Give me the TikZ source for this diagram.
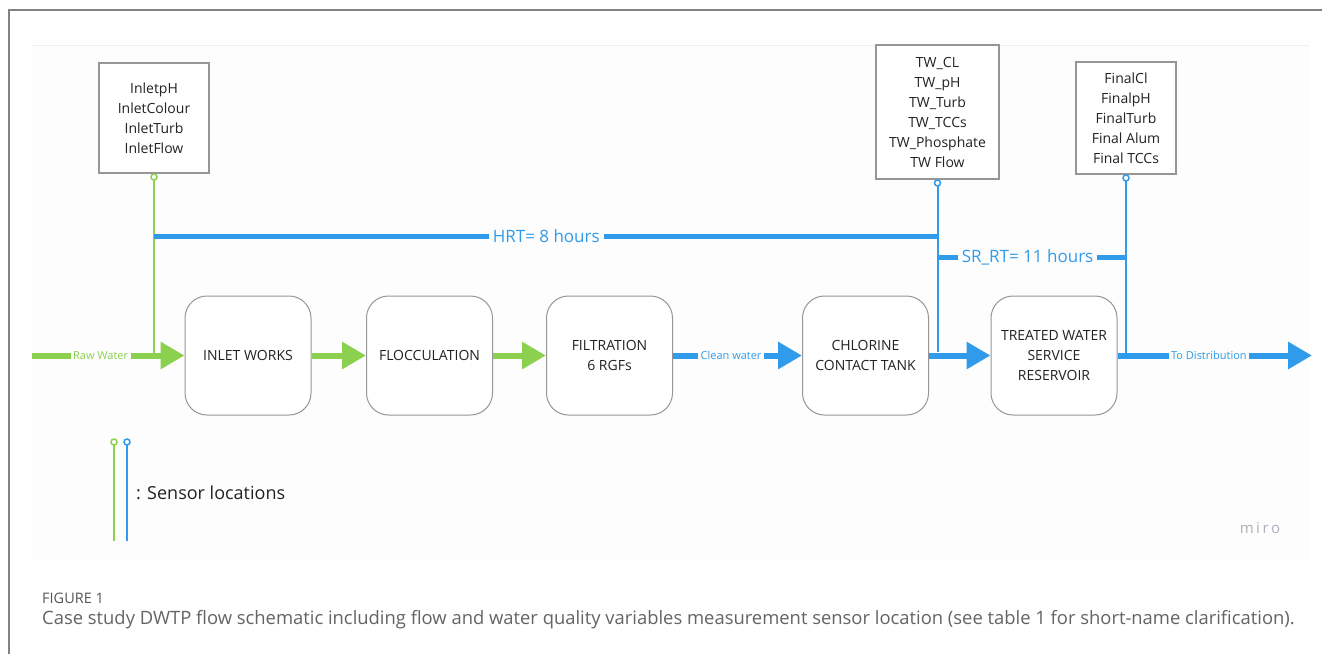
\documentclass[tikz,border=0pt]{standalone}
\usepackage{fontspec}
\setmainfont{Open Sans}
\usetikzlibrary{arrows.meta}
\definecolor{fgreen}{RGB}{140,208,80}
\definecolor{fblue}{RGB}{48,155,235}
\definecolor{boxgray}{RGB}{150,150,150}
\definecolor{framegray}{RGB}{130,130,130}
\definecolor{bgc}{RGB}{253,253,253}
\definecolor{textc}{RGB}{34,34,34}
\definecolor{capc}{RGB}{100,100,100}
\definecolor{figc}{RGB}{85,85,85}
\definecolor{miroc}{RGB}{175,175,190}
\begin{document}
\begin{tikzpicture}[x=1pt,y=-1pt,
  sensorbox/.style={draw=boxgray, line width=1.2pt, fill=white, align=center, text=textc,
    font=\fontsize{14}{20}\selectfont, inner sep=0pt},
  stepbox/.style={draw=boxgray, line width=1pt, rounded corners=22pt, fill=white,
    minimum width=126pt, minimum height=119pt, align=center, text=textc,
    font=\fontsize{14}{20}\selectfont, inner sep=0pt},
  gflow/.style={draw=fgreen, line width=6pt, -{Triangle[length=24pt,width=26pt]}},
  bflow/.style={draw=fblue, line width=6pt, -{Triangle[length=24pt,width=26pt]}},
  gsense/.style={draw=fgreen, line width=2pt},
  bsense/.style={draw=fblue, line width=2pt},
  rtline/.style={draw=fblue, line width=5pt},
  sdot/.style={circle, fill=white, line width=1.5pt, minimum size=6pt, inner sep=0pt},
  flbl/.style={fill=bgc, inner sep=2.5pt, font=\fontsize{11}{13}\selectfont},
  rtlbl/.style={fill=bgc, inner sep=4pt, text=fblue, font=\fontsize{17}{20}\selectfont}
]
\useasboundingbox (0,0) rectangle (1322,654);
\fill[white] (0,0) rectangle (1322,654);
% outer frame
\draw[framegray, line width=1.5pt] (9,654) -- (9,10) -- (1322,10);
% miro board background
\fill[bgc] (32,45) rectangle (1310,560);
\draw[black!6, line width=1pt] (32,45) -- (1310,45);

% sensor boxes
\node[sensorbox, minimum width=110pt, minimum height=110pt] (inb) at (154,118)
  {InletpH\\InletColour\\InletTurb\\InletFlow};
\node[sensorbox, minimum width=123pt, minimum height=134pt] (twb) at (937.5,112)
  {TW\_CL\\TW\_pH\\TW\_Turb\\TW\_TCCs\\TW\_Phosphate\\TW Flow};
\node[sensorbox, minimum width=100pt, minimum height=112pt] (fnb) at (1126,118)
  {FinalCl\\FinalpH\\FinalTurb\\Final Alum\\Final TCCs};

% process boxes
\node[stepbox] (b1) at (248,355.5) {INLET WORKS};
\node[stepbox] (b2) at (429.5,355.5) {FLOCCULATION};
\node[stepbox] (b3) at (609.5,355.5) {FILTRATION\\6 RGFs};
\node[stepbox] (b4) at (865.5,355.5) {CHLORINE\\CONTACT TANK};
\node[stepbox] (b5) at (1054,355.5) {TREATED WATER\\SERVICE\\RESERVOIR};

% coordinates
\coordinate (rawin) at (32,355.5);
\coordinate (distout) at (1312,355.5);
\coordinate (s1) at (154,177);
\coordinate (j1) at (154,355.5);
\coordinate (s2) at (937.5,183);
\coordinate (j2) at (937.5,352);
\coordinate (s3) at (1126,178);
\coordinate (j3) at (1126,355.5);
\coordinate (h1) at (154,236);
\coordinate (h2) at (938.5,236);
\coordinate (r1) at (937.5,257);
\coordinate (r2) at (1127,257);

% flows
\draw[gflow] (rawin) -- node[flbl, text=fgreen, pos=0.45] {Raw Water} (b1.west);
\draw[gflow] (b1.east) -- (b2.west);
\draw[gflow] (b2.east) -- (b3.west);
\draw[bflow] (b3.east) -- node[flbl, text=fblue, pos=0.45] {Clean water} (b4.west);
\draw[bflow] (b4.east) -- (b5.west);
\draw[bflow] (b5.east) -- node[flbl, text=fblue, pos=0.47] {To Distribution} (distout);

% sensor lines
\draw[gsense] (s1) -- (j1);
\draw[bsense] (s2) -- (j2);
\draw[bsense] (s3) -- (j3);
\node[sdot, draw=fgreen] at (s1) {};
\node[sdot, draw=fblue] at (s2) {};
\node[sdot, draw=fblue] at (s3) {};

% retention times
\draw[rtline] (h1) -- node[rtlbl, pos=0.5] {HRT= 8 hours} (h2);
\draw[rtline] (r1) -- node[rtlbl, pos=0.475] {SR\_RT= 11 hours} (r2);

% legend
\coordinate (lg1) at (114,442);
\coordinate (lg1b) at (114,541);
\coordinate (lb1) at (127,442);
\coordinate (lb1b) at (127,541);
\draw[gsense] (lg1) -- (lg1b);
\draw[bsense] (lb1) -- (lb1b);
\node[sdot, draw=fgreen] at (lg1) {};
\node[sdot, draw=fblue] at (lb1) {};
\node[anchor=west, text=textc, font=\fontsize{18}{20}\selectfont, inner sep=0pt] (leg) at (136,493) {: Sensor locations};

% watermark
\node[text=miroc, font=\fontsize{15}{18}\selectfont, inner sep=0pt] (miro) at (1260,528) {m\,i\,r\,o};

% caption
\node[anchor=west, text=figc, font=\fontsize{14.5}{16}\selectfont, inner sep=0pt] (fig) at (42,598) {FIGURE 1};
\node[anchor=west, text=capc, font=\fontsize{18.4}{22}\selectfont, inner sep=0pt] (cap) at (42,620)
  {Case study DWTP flow schematic including flow and water quality variables measurement sensor location (see table 1 for short-name clarification).};
\end{tikzpicture}
\end{document}
